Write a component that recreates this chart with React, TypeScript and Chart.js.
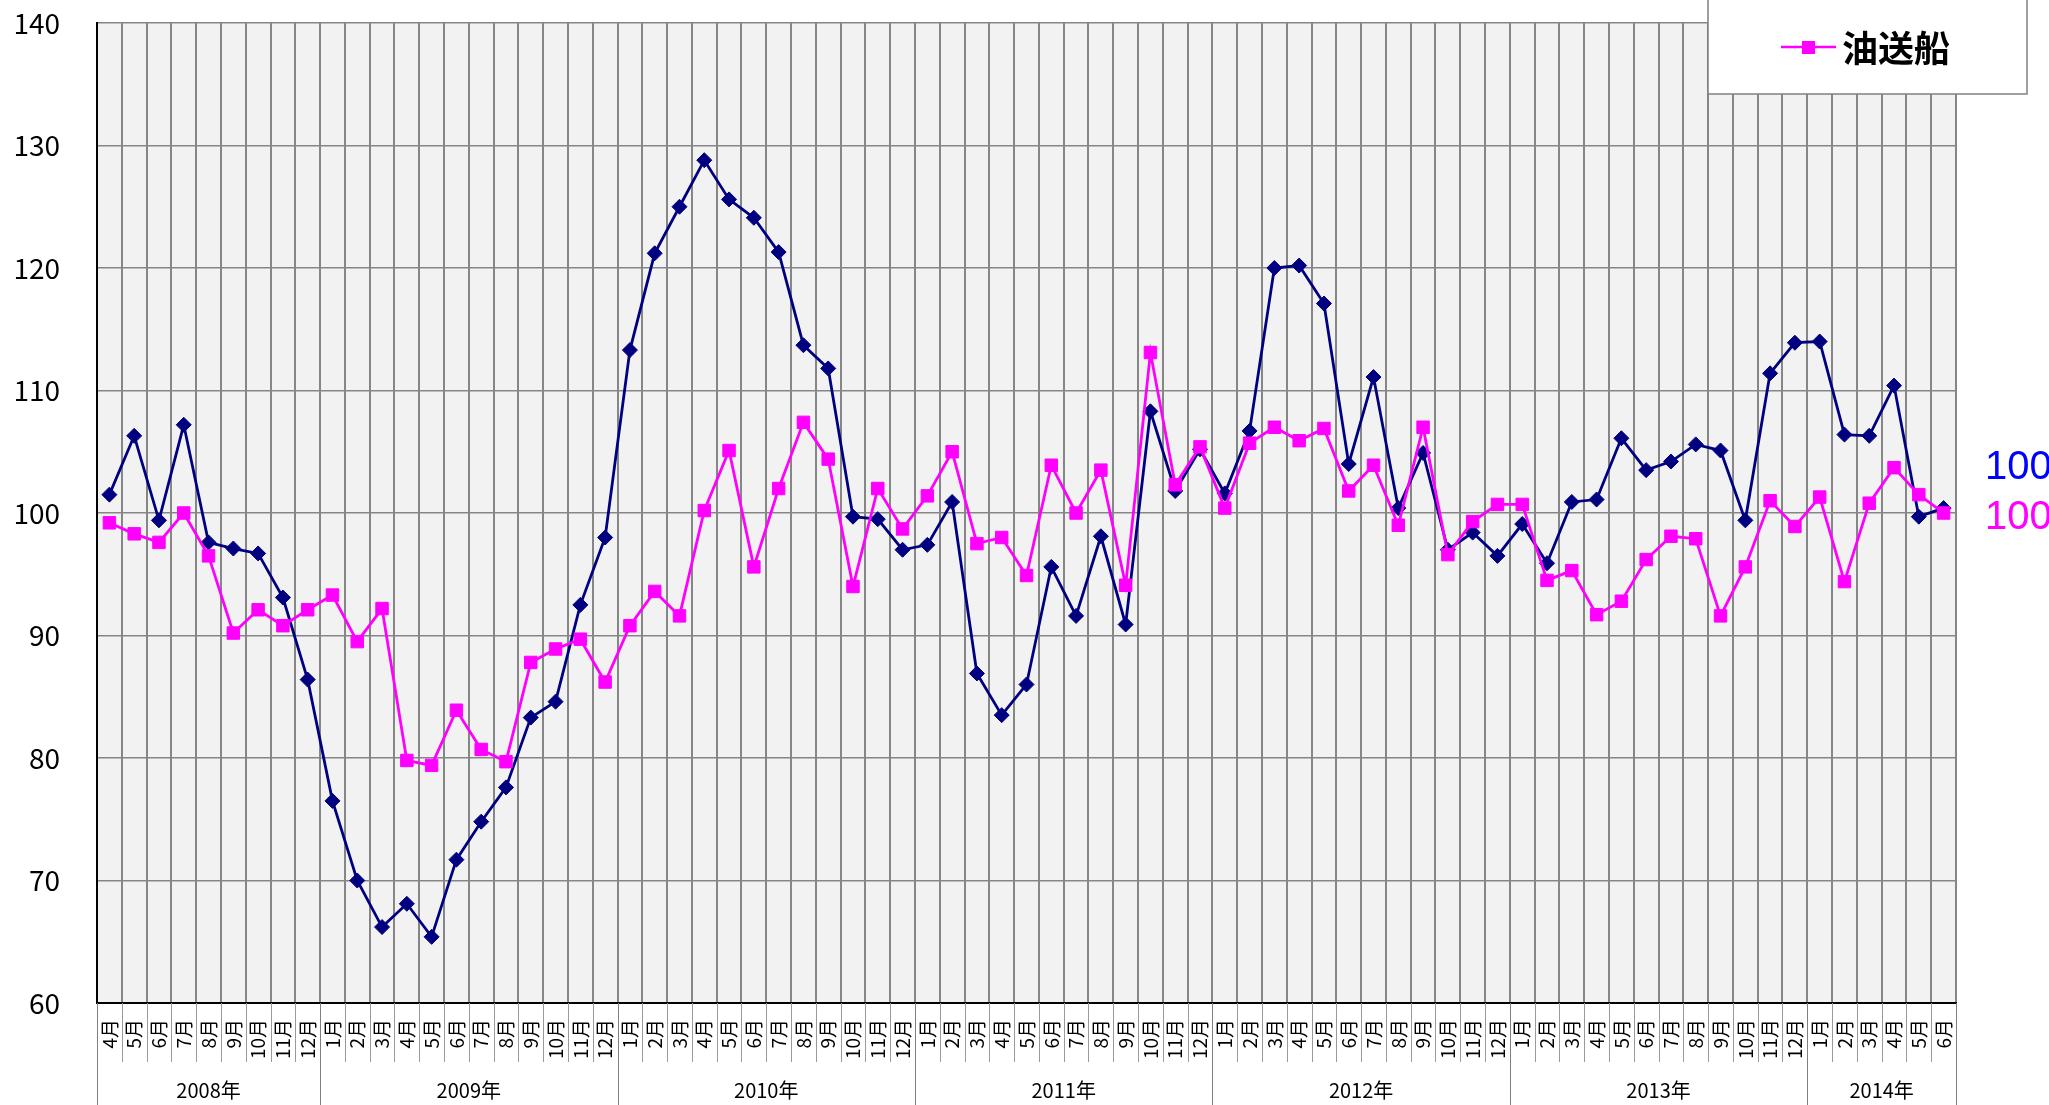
import React, { useEffect, useRef } from 'react';
import { Chart, registerables } from 'chart.js';

Chart.register(...registerables);

const monthLabels = [
  '4月', '5月', '6月', '7月', '8月', '9月', '10月', '11月', '12月',
  '1月', '2月', '3月', '4月', '5月', '6月', '7月', '8月', '9月', '10月', '11月', '12月',
  '1月', '2月', '3月', '4月', '5月', '6月', '7月', '8月', '9月', '10月', '11月', '12月',
  '1月', '2月', '3月', '4月', '5月', '6月', '7月', '8月', '9月', '10月', '11月', '12月',
  '1月', '2月', '3月', '4月', '5月', '6月', '7月', '8月', '9月', '10月', '11月', '12月',
  '1月', '2月', '3月', '4月', '5月', '6月', '7月', '8月', '9月', '10月', '11月', '12月',
  '1月', '2月', '3月', '4月', '5月', '6月',
];

const yearLabels = ['2008年', '2009年', '2010年', '2011年', '2012年', '2013年', '2014年'];
const yearMonthCounts = [9, 12, 12, 12, 12, 12, 6];

const overallSeries = [
  101.5, 106.3, 99.4, 107.2, 97.6, 97.1, 96.7, 93.1, 86.4,
  76.5, 70.0, 66.2, 68.1, 65.4, 71.7, 74.8, 77.6, 83.3, 84.6, 92.5, 98.0,
  113.3, 121.2, 125.0, 128.8, 125.6, 124.1, 121.3, 113.7, 111.8, 99.7, 99.5, 97.0,
  97.4, 100.9, 86.9, 83.5, 86.0, 95.6, 91.6, 98.1, 90.9, 108.3, 101.8, 105.2,
  101.6, 106.7, 120.0, 120.2, 117.1, 104.0, 111.1, 100.4, 104.9, 97.0, 98.4, 96.5,
  99.1, 95.9, 100.9, 101.1, 106.1, 103.5, 104.2, 105.6, 105.1, 99.4, 111.4, 113.9,
  114.0, 106.4, 106.3, 110.4, 99.7, 100.4,
];

const tankerSeries = [
  99.2, 98.3, 97.6, 100.0, 96.5, 90.2, 92.1, 90.8, 92.1,
  93.3, 89.5, 92.2, 79.8, 79.4, 83.9, 80.7, 79.7, 87.8, 88.9, 89.7, 86.2,
  90.8, 93.6, 91.6, 100.2, 105.1, 95.6, 102.0, 107.4, 104.4, 94.0, 102.0, 98.7,
  101.4, 105.0, 97.5, 98.0, 94.9, 103.9, 100.0, 103.5, 94.1, 113.1, 102.3, 105.4,
  100.4, 105.7, 107.0, 105.9, 106.9, 101.8, 103.9, 99.0, 107.0, 96.6, 99.3, 100.7,
  100.7, 94.5, 95.3, 91.7, 92.8, 96.2, 98.1, 97.9, 91.6, 95.6, 101.0, 98.9,
  101.3, 94.4, 100.8, 103.7, 101.5, 100.0,
];

const yMin = 60;
const yMax = 140;
const yStep = 10;
const legendLabel = '油送船';
const endLabels = ['100', '100'];

const NAVY = '#000080';
const MAGENTA = '#ff00ff';
const GRID = '#868686';
const CJK = "'Noto Sans CJK JP', 'Noto Sans', sans-serif";

export default function App() {
  const ref = useRef<HTMLCanvasElement>(null);

  useEffect(() => {
    const canvas = ref.current;
    if (!canvas) return;

    const decorPlugin = {
      id: 'decor',
      beforeDraw(chart: any) {
        const { ctx, chartArea: a, width, height } = chart;
        ctx.save();
        ctx.fillStyle = '#ffffff';
        ctx.fillRect(0, 0, width, height);
        ctx.fillStyle = '#f2f2f2';
        ctx.fillRect(a.left, a.top, a.right - a.left, a.bottom - a.top);
        ctx.restore();
      },
      afterDraw(chart: any) {
        const { ctx, chartArea: a, height } = chart;
        const xs = chart.scales.x;
        const n = monthLabels.length;
        const boundary = (i: number) => xs.getPixelForValue(i - 0.5);
        ctx.save();
        // month separators below the axis
        ctx.strokeStyle = '#9a9a9a';
        ctx.lineWidth = 1;
        for (let i = 0; i <= n; i++) {
          const x = Math.round(boundary(i)) + 0.5;
          ctx.beginPath();
          ctx.moveTo(x, a.bottom);
          ctx.lineTo(x, a.bottom + 59);
          ctx.stroke();
        }
        // year separators and labels
        ctx.strokeStyle = '#808080';
        let start = 0;
        const yearEdges = [0];
        yearMonthCounts.forEach((c) => {
          start += c;
          yearEdges.push(start);
        });
        yearEdges.forEach((e) => {
          const x = Math.round(boundary(e)) + 0.5;
          ctx.beginPath();
          ctx.moveTo(x, a.bottom);
          ctx.lineTo(x, height);
          ctx.stroke();
        });
        ctx.fillStyle = '#000';
        ctx.font = `20px ${CJK}`;
        ctx.textAlign = 'center';
        ctx.textBaseline = 'middle';
        yearLabels.forEach((lab, k) => {
          const x0 = boundary(yearEdges[k]);
          const x1 = boundary(yearEdges[k + 1]);
          ctx.fillText(lab, (x0 + x1) / 2, a.bottom + 87);
        });

        // legend box
        const lx = a.right - 248;
        ctx.fillStyle = '#ffffff';
        ctx.fillRect(lx, -2, 319, 96);
        ctx.strokeStyle = '#808080';
        ctx.lineWidth = 1.5;
        ctx.strokeRect(lx, -2, 319, 96);
        ctx.strokeStyle = MAGENTA;
        ctx.lineWidth = 2.5;
        ctx.beginPath();
        ctx.moveTo(lx + 73, 47);
        ctx.lineTo(lx + 128, 47);
        ctx.stroke();
        ctx.fillStyle = MAGENTA;
        ctx.fillRect(lx + 94, 41, 13, 13);
        ctx.fillStyle = '#000';
        ctx.font = `bold 36px ${CJK}`;
        ctx.textAlign = 'left';
        ctx.textBaseline = 'middle';
        ctx.fillText(legendLabel, lx + 134, 48);

        // end labels
        ctx.font = `40px 'Liberation Sans', Arial, sans-serif`;
        ctx.textAlign = 'left';
        ctx.fillStyle = '#0000ff';
        ctx.fillText(endLabels[0], a.right + 29, 468);
        ctx.fillStyle = MAGENTA;
        ctx.fillText(endLabels[1], a.right + 29, 518);
        ctx.restore();
      },
    };

    const chart = new Chart(canvas, {
      type: 'line',
      data: {
        labels: monthLabels,
        datasets: [
          {
            label: legendLabel,
            data: tankerSeries,
            borderColor: MAGENTA,
            backgroundColor: MAGENTA,
            borderWidth: 2.8,
            pointStyle: 'rect',
            pointRadius: 8.8,
            pointBorderWidth: 1,
            pointBackgroundColor: MAGENTA,
            pointBorderColor: MAGENTA,
            tension: 0,
            order: 0,
          },
          {
            label: '全体',
            data: overallSeries,
            borderColor: NAVY,
            backgroundColor: NAVY,
            borderWidth: 2.8,
            pointStyle: 'rectRot',
            pointRadius: 7.5,
            pointBorderWidth: 1,
            pointBackgroundColor: NAVY,
            pointBorderColor: NAVY,
            tension: 0,
            order: 1,
          },
        ],
      },
      options: {
        responsive: false,
        devicePixelRatio: 1,
        animation: false,
        layout: { padding: { top: 23, right: 93, left: 0, bottom: 0 } },
        plugins: {
          legend: { display: false },
          tooltip: { enabled: false },
        },
        scales: {
          x: {
            type: 'category',
            offset: true,
            grid: { offset: true, color: GRID, lineWidth: 2, drawTicks: false },
            border: { color: '#000', width: 2 },
            ticks: {
              autoSkip: false,
              minRotation: 90,
              maxRotation: 90,
              padding: 16,
              color: '#000',
              font: { family: CJK, size: 19 },
            },
            afterFit: (s: any) => {
              s.height = 102;
              s.paddingLeft = 0;
              s.paddingRight = 0;
            },
          },
          y: {
            min: yMin,
            max: yMax,
            ticks: {
              stepSize: yStep,
              padding: 37,
              color: '#000',
              font: { family: CJK, size: 28 },
            },
            grid: { color: GRID, lineWidth: 1.5, drawTicks: false },
            border: { color: '#000', width: 2 },
            afterFit: (s: any) => {
              s.width = 97;
              s.paddingTop = 0;
              s.paddingBottom = 0;
            },
          },
        },
      },
      plugins: [decorPlugin],
    });

    return () => chart.destroy();
  }, []);

  return (
    <div style={{ position: 'fixed', left: 0, top: 0, width: 2049, height: 1105, background: '#fff' }}>
      <canvas ref={ref} width={2049} height={1105} style={{ width: 2049, height: 1105, display: 'block' }} />
    </div>
  );
}
